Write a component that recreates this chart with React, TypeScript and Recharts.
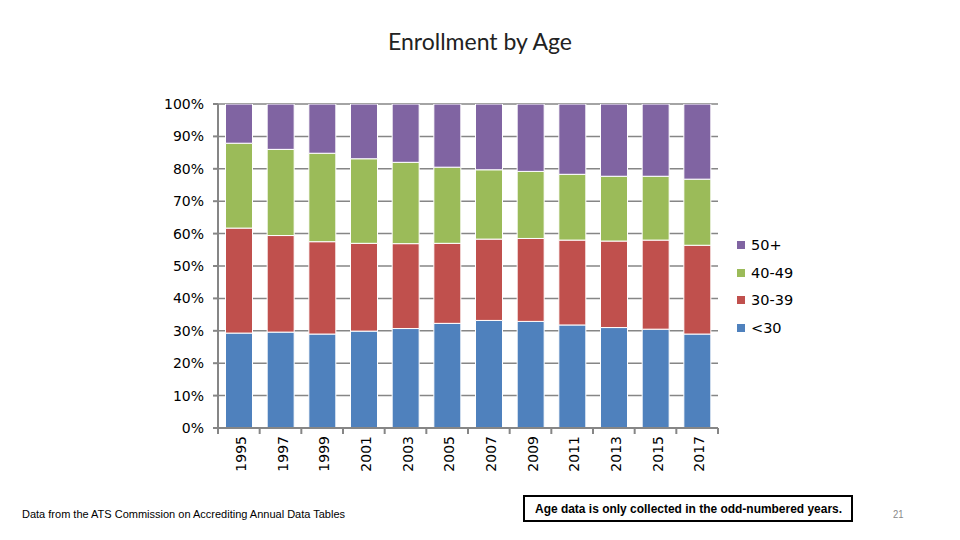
import { BarChart, Bar, XAxis, YAxis, CartesianGrid } from 'recharts'

const years = ['1995', '1997', '1999', '2001', '2003', '2005', '2007', '2009', '2011', '2013', '2015', '2017']
const under30 = [29.3, 29.6, 29.0, 29.9, 30.7, 32.3, 33.2, 32.9, 31.8, 31.0, 30.5, 29.0]
const age30to39 = [32.4, 29.8, 28.5, 27.1, 26.2, 24.7, 25.1, 25.6, 26.2, 26.7, 27.5, 27.4]
const age40to49 = [26.2, 26.6, 27.3, 26.1, 25.1, 23.5, 21.4, 20.7, 20.3, 20.0, 19.7, 20.4]
const age50plus = [12.1, 14.0, 15.2, 16.9, 18.0, 19.5, 20.3, 20.8, 21.7, 22.3, 22.3, 23.2]
const yTicks = [0, 10, 20, 30, 40, 50, 60, 70, 80, 90, 100]

const series = [
  { key: 'u30', name: '<30', color: '#4F81BD', values: under30 },
  { key: 'a30', name: '30-39', color: '#C0504D', values: age30to39 },
  { key: 'a40', name: '40-49', color: '#9BBB59', values: age40to49 },
  { key: 'a50', name: '50+', color: '#8064A2', values: age50plus },
]

const data = years.map((year, i) => {
  const row: Record<string, string | number> = { year }
  series.forEach(s => { row[s.key] = s.values[i] })
  return row
})

// plot geometry
const W = 960
const H = 540
const margin = { top: 104, right: 242, bottom: 52, left: 158 }
const yAxisWidth = 60
const xAxisHeight = 60
const plotLeft = margin.left + yAxisWidth
const plotWidth = W - plotLeft - margin.right
const plotBottom = H - margin.bottom - xAxisHeight
const band = plotWidth / years.length

const XTick = (props: any) => {
  const { x, payload, index } = props
  const left = x - band / 2
  return (
    <g>
      <line x1={left} y1={plotBottom} x2={left} y2={plotBottom + 6} stroke='#868686' strokeWidth={2} />
      {index === years.length - 1 && (
        <line x1={x + band / 2} y1={plotBottom} x2={x + band / 2} y2={plotBottom + 6} stroke='#868686' strokeWidth={2} />
      )}
      <text
        x={x + 2}
        y={plotBottom + 8}
        transform={`rotate(-90, ${x + 2}, ${plotBottom + 8})`}
        textAnchor='end'
        dominantBaseline='central'
        fontSize={14}
        fontFamily='DejaVu Sans'
        fill='#000'
      >
        {payload.value}
      </text>
    </g>
  )
}

const narrow = (scale: number) => ({
  display: 'inline-block',
  whiteSpace: 'nowrap' as const,
  transform: `scaleX(${scale})`,
  transformOrigin: 'left center',
})

export default function App () {
  return (
    <div style={{ position: 'absolute', left: 0, top: 0, width: W, height: H, background: '#fff', fontFamily: 'DejaVu Sans' }}>
      <div style={{ position: 'absolute', left: 0, width: W, top: 27, textAlign: 'center', fontFamily: 'Lato', fontSize: 23, color: '#222' }}>
        Enrollment by Age
      </div>
      <BarChart width={W} height={H} data={data} margin={margin} barCategoryGap='18%'>
        <CartesianGrid vertical={false} stroke='#868686' strokeWidth={1.5} />
        <XAxis
          dataKey='year'
          height={xAxisHeight}
          axisLine={{ stroke: '#868686', strokeWidth: 2 }}
          tickLine={false}
          tick={<XTick />}
          interval={0}
        />
        <YAxis
          width={yAxisWidth}
          domain={[0, 100]}
          ticks={yTicks}
          allowDataOverflow
          tickFormatter={(v: number) => `${v}%`}
          axisLine={{ stroke: '#868686', strokeWidth: 2 }}
          tickLine={{ stroke: '#868686', strokeWidth: 2 }}
          tickSize={5}
          tickMargin={9}
          tick={{ fill: '#000', fontSize: 14, fontFamily: 'DejaVu Sans' }}
        />
        {series.map(s => (
          <Bar key={s.key} dataKey={s.key} name={s.name} stackId='a' fill={s.color} stroke='#fff' strokeWidth={1} isAnimationActive={false} />
        ))}
      </BarChart>
      <div style={{ position: 'absolute', left: 737, top: 231 }}>
        {[...series].reverse().map(s => (
          <div key={s.key} style={{ display: 'flex', alignItems: 'center', height: 27.7, fontSize: 14.5, color: '#000' }}>
            <span style={{ display: 'inline-block', width: 8, height: 8, background: s.color, marginRight: 6 }} />
            {s.name}
          </div>
        ))}
      </div>
      <div style={{ position: 'absolute', left: 22, top: 508, fontFamily: 'Liberation Sans', fontSize: 11, color: '#000' }}>
        <span style={narrow(1.0)}>Data from the ATS Commission on Accrediting Annual Data Tables</span>
      </div>
      <div style={{ position: 'absolute', left: 523, top: 495, width: 326, height: 23, border: '2px solid #000', boxSizing: 'content-box', fontFamily: 'Liberation Sans', fontWeight: 'bold', fontSize: 13, lineHeight: '23px', color: '#000', overflow: 'hidden' }}>
        <span style={{ ...narrow(0.92), marginLeft: 10 }}>Age data is only collected in the odd-numbered years.</span>
      </div>
      <div style={{ position: 'absolute', left: 893, top: 508, fontFamily: 'Liberation Sans', fontSize: 11, color: '#888' }}>
        <span style={narrow(0.86)}>21</span>
      </div>
    </div>
  )
}
